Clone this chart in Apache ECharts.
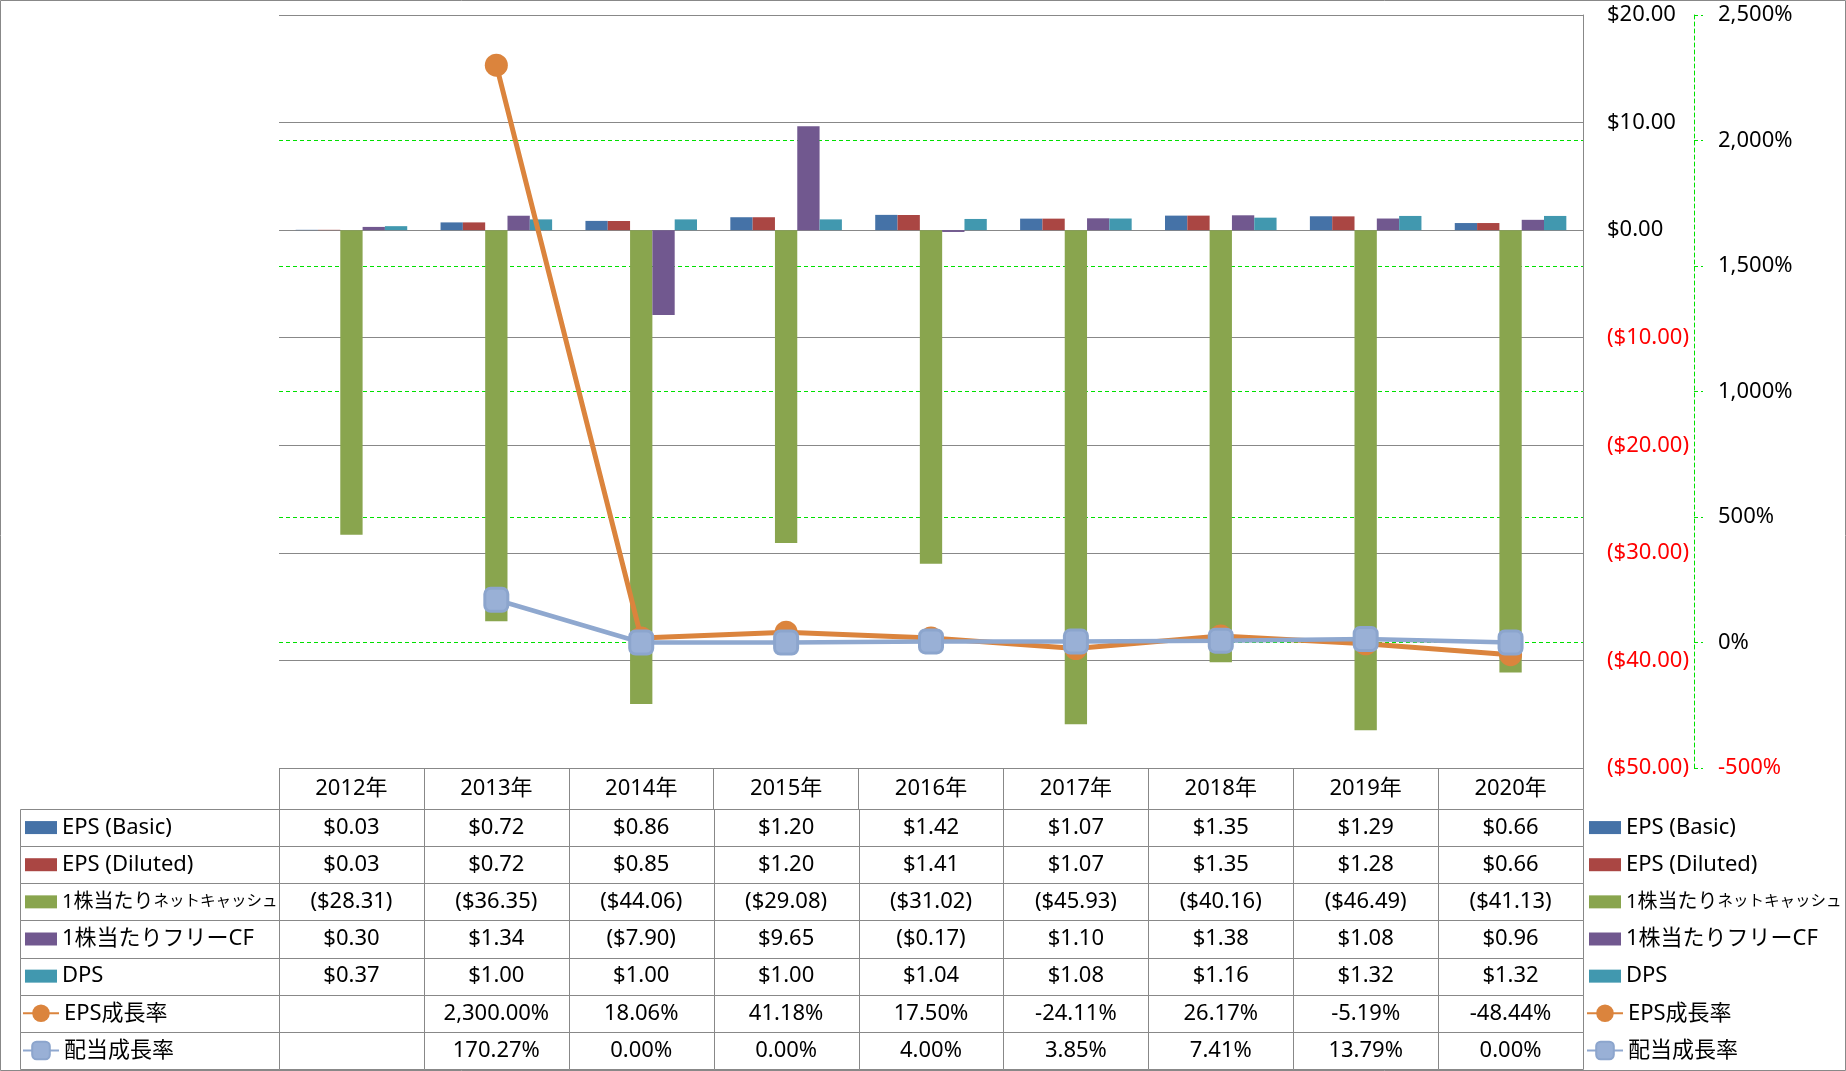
<!DOCTYPE html>
<html>
<head>
<meta charset="utf-8">
<script src="https://cdn.jsdelivr.net/npm/echarts@6/dist/echarts.min.js"></script>
<style>
html,body{margin:0;padding:0;background:#fff;}
#c{width:1846px;height:1071px;}
</style>
</head>
<body>
<div id="c"></div>
<script>
// ---- data ----
const years = ['2012年','2013年','2014年','2015年','2016年','2017年','2018年','2019年','2020年'];
const seriesNames = ['EPS (Basic)','EPS (Diluted)','1株当たりネットキャッシュ','1株当たりフリーCF','DPS','EPS成長率','配当成長率'];
const epsBasic   = [0.03, 0.72, 0.86, 1.20, 1.42, 1.07, 1.35, 1.29, 0.66];
const epsDiluted = [0.03, 0.72, 0.85, 1.20, 1.41, 1.07, 1.35, 1.28, 0.66];
const netCash    = [-28.31, -36.35, -44.06, -29.08, -31.02, -45.93, -40.16, -46.49, -41.13];
const freeCF     = [0.30, 1.34, -7.90, 9.65, -0.17, 1.10, 1.38, 1.08, 0.96];
const dps        = [0.37, 1.00, 1.00, 1.00, 1.04, 1.08, 1.16, 1.32, 1.32];
const epsGrowth  = [null, 2300.00, 18.06, 41.18, 17.50, -24.11, 26.17, -5.19, -48.44];
const divGrowth  = [null, 170.27, 0.00, 0.00, 4.00, 3.85, 7.41, 13.79, 0.00];
// axis ticks
const leftAxis  = {min: -50, max: 20, interval: 10};
const rightAxis = {min: -500, max: 2500, interval: 500};

const colors = ['#4572A7','#AA4643','#89A54E','#71588F','#4198AF','#DB843D','#93A9CF'];
const FONT = "'Noto Sans', 'Noto Sans CJK JP', sans-serif";
const GREEN = '#00E000';

function fmtMoney(v){
  if (v === null || v === undefined) return '';
  v = Number(v);
  const s = '$' + Math.abs(v).toFixed(2);
  return v < 0 ? '(' + s + ')' : s;
}
function fmtPct(v){
  if (v === null || v === undefined) return '';
  return Number(v).toLocaleString('en-US',{minimumFractionDigits:2, maximumFractionDigits:2}) + '%';
}
function fmtPctAxis(v){
  return Number(v).toLocaleString('en-US') + '%';
}

const rowData = [epsBasic, epsDiluted, netCash, freeCF, dps, epsGrowth, divGrowth];
const rowFmt  = [fmtMoney, fmtMoney, fmtMoney, fmtMoney, fmtMoney, fmtPct, fmtPct];

const tableCells = [];
const tableText = [];
rowData.forEach((arr, r) => {
  arr.forEach((v, c) => {
    tableCells.push([c, r]);
    tableText.push(rowFmt[r](v));
  });
});
const labelCells = seriesNames.map((n, r) => [0, r]);

function cellRect(api){
  const c = api.coord([api.value(0), api.value(1)]);
  const s = api.size([1, 1]);
  const x0 = Math.round(c[0] - s[0]/2) + 0.5, x1 = Math.round(c[0] + s[0]/2) + 0.5;
  const y0 = Math.round(c[1] - s[1]/2) + 0.5, y1 = Math.round(c[1] + s[1]/2) + 0.5;
  return {c, rect: {type:'rect', shape:{x:x0, y:y0, width:x1-x0, height:y1-y0},
    style:{fill:null, stroke:'#888888', lineWidth:1}}};
}

const barSeries = seriesNames.slice(0,5).map((name, i) => ({
  type:'bar', name, data: rowData[i], xAxisIndex:0, yAxisIndex:0,
  barGap:'0%', barCategoryGap:'23%',
  itemStyle:{color: colors[i]}
}));

const legendRich = {
  a:{fontSize:20, lineHeight:24, fontFamily:FONT, color:'#000'},
  b:{fontSize:15.5, lineHeight:24, fontFamily:FONT, color:'#000'}
};
function legendFmt(name){
  if (name === '1株当たりネットキャッシュ') return '{a|1株当たり}{b|ネットキャッシュ}';
  return name;
}
const rowH = 260/7;
function makeLegend(left, first, count, itemHeight, icon){
  return {
    left, orient:'vertical', top: 809 + rowH*first + rowH/2 - 12, padding:0,
    itemWidth: icon ? 32 : 36, itemHeight, itemGap: rowH - 24,
    data: seriesNames.slice(first, first+count).map(n => icon ? {name:n, icon} : {name:n}),
    formatter: legendFmt,
    textStyle:{fontSize:22, lineHeight:24, fontFamily:FONT, color:'#000', rich: legendRich},
    selectedMode:false
  };
}

const option = {
  animation:false,
  color: colors,
  textStyle:{fontFamily:FONT},
  graphic:[{type:'rect', silent:true, z:-10, shape:{x:0.5, y:0.5, width:1845, height:1070},
    style:{fill:null, stroke:'#888888', lineWidth:1}}],
  legend:[
    makeLegend(25, 0, 5, 13, 'rect'),
    makeLegend(22, 5, 2, 22, null),
    makeLegend(1589, 0, 5, 13, 'rect'),
    makeLegend(1586, 5, 2, 22, null)
  ],
  grid:[
    {left:279, right:263, top:15, bottom:303, outerBoundsMode:'none'},
    {left:279, right:263, top:809, bottom:2, outerBoundsMode:'none'},
    {left:20, width:259, top:809, bottom:2, outerBoundsMode:'none'}
  ],
  xAxis:[
    {type:'category', gridIndex:0, data:years, axisLine:{show:false}, axisTick:{show:false},
      axisLabel:{show:false}, splitLine:{show:false}},
    {type:'category', gridIndex:1, data:years, position:'top',
      axisLine:{show:true, lineStyle:{color:'#888888'}},
      axisTick:{show:true, length:41, lineStyle:{color:'#888888'}},
      axisLabel:{show:true, margin:20, verticalAlign:'middle', fontSize:22, color:'#000', fontFamily:FONT},
      splitLine:{show:false}},
    {type:'category', gridIndex:2, data:[''], show:false}
  ],
  yAxis:[
    {type:'value', gridIndex:0, position:'right', min:leftAxis.min, max:leftAxis.max, interval:leftAxis.interval,
      axisLine:{show:true, lineStyle:{color:'#888888'}}, axisTick:{show:false},
      axisLabel:{margin:24, fontSize:22, fontFamily:FONT, showMinLabel:true, showMaxLabel:true,
        formatter: fmtMoney, color: v => Number(v) < 0 ? '#FF0000' : '#000000'},
      splitLine:{show:true, lineStyle:{color:'#888888', width:1}}},
    {type:'value', gridIndex:0, position:'right', offset:111, min:rightAxis.min, max:rightAxis.max, interval:rightAxis.interval,
      axisLine:{show:true, lineStyle:{color:GREEN, type:[4,3]}},
      axisTick:{show:true, length:9, lineStyle:{color:GREEN, type:[4,3]}},
      axisLabel:{margin:24, fontSize:22, fontFamily:FONT, showMinLabel:true, showMaxLabel:true,
        formatter: fmtPctAxis, color: v => Number(v) < 0 ? '#FF0000' : '#000000'},
      splitLine:{show:true, showMinLine:false, showMaxLine:false, lineStyle:{color:GREEN, type:[4,3], width:1}}},
    {type:'category', gridIndex:1, data:seriesNames, inverse:true, show:false},
    {type:'category', gridIndex:2, data:seriesNames, inverse:true, show:false}
  ],
  series: barSeries.concat([
    {type:'line', name:'EPS成長率', data:epsGrowth, xAxisIndex:0, yAxisIndex:1,
      symbol:'circle', symbolSize:23, showAllSymbol:true,
      lineStyle:{width:5, color:colors[5]}, itemStyle:{color:colors[5]}, z:3},
    {type:'line', name:'配当成長率', data:divGrowth, xAxisIndex:0, yAxisIndex:1,
      symbol:'roundRect', symbolSize:23, showAllSymbol:true,
      lineStyle:{width:4.5, color:'#8FA8CF'}, itemStyle:{color:'#99B0D6', borderColor:'#8CA5CD', borderWidth:3}, z:4},
    {type:'custom', name:'table', xAxisIndex:1, yAxisIndex:2, data:tableCells, silent:true,
      renderItem:(params, api) => {
        const r = cellRect(api);
        return {type:'group', children:[ r.rect,
          {type:'text', x:r.c[0], y:r.c[1], style:{text: tableText[params.dataIndex], fill:'#000',
            fontSize:22, fontFamily:FONT, align:'center', verticalAlign:'middle'}}]};
      }},
    {type:'custom', name:'labels', xAxisIndex:2, yAxisIndex:3, data:labelCells, silent:true,
      renderItem:(params, api) => cellRect(api).rect}
  ])
};

const chart = echarts.init(document.getElementById('c'), null, {renderer:'canvas'});
chart.setOption(option);
</script>
</body>
</html>
